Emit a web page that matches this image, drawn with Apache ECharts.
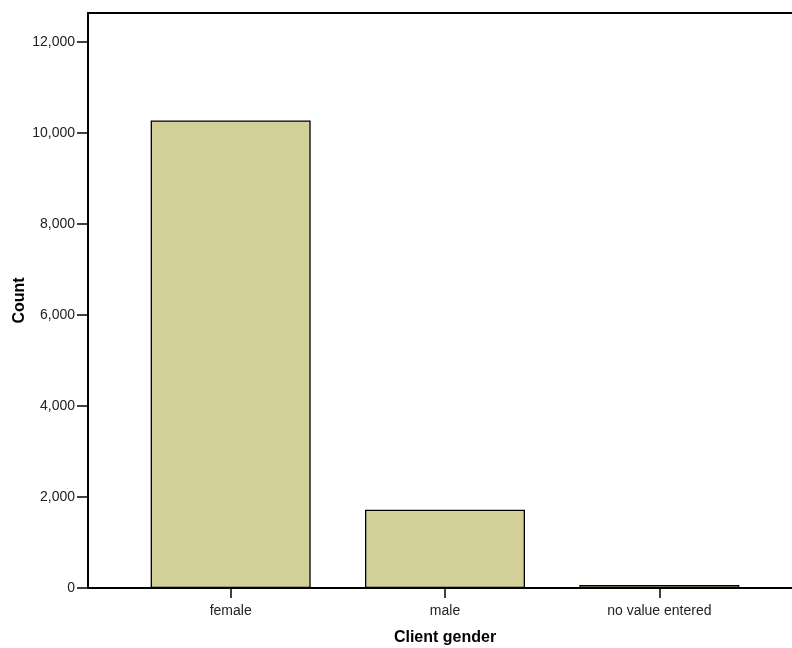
<!DOCTYPE html>
<html>
<head>
<meta charset="utf-8">
<script src="https://cdn.jsdelivr.net/npm/echarts@6/dist/echarts.min.js"></script>
<style>html,body{margin:0;padding:0;background:#fff;}#c{width:792px;height:648px;}</style>
</head>
<body>
<div id="c"></div>
<script>
const categories = ['female', 'male', 'no value entered'];
const counts = [10277, 1721, 68];
const yTicks = [0, 2000, 4000, 6000, 8000, 10000, 12000];
const yMax = 12637;

const chart = echarts.init(document.getElementById('c'), null, {renderer: 'canvas'});
const font = '"Liberation Sans", Arial, Helvetica, sans-serif';
chart.setOption({
  animation: false,
  backgroundColor: '#ffffff',
  grid: [
    {left: 88, top: 13, right: 0, bottom: 60, containLabel: false, outerBoundsMode: 'none'},
    {left: 123.5, top: 13, right: 25.5, bottom: 60, containLabel: false, outerBoundsMode: 'none'}
  ],
  xAxis: [
    {type: 'value', gridIndex: 0, min: 0, max: 1, position: 'bottom',
     axisLine: {show: true, onZero: false, lineStyle: {color: '#000', width: 2}},
     axisTick: {show: false}, axisLabel: {show: false}, splitLine: {show: false}},
    {type: 'value', gridIndex: 0, min: 0, max: 1, position: 'top',
     axisLine: {show: true, onZero: false, lineStyle: {color: '#000', width: 2}},
     axisTick: {show: false}, axisLabel: {show: false}, splitLine: {show: false}},
    {type: 'category', gridIndex: 1, data: categories,
     axisLine: {show: false},
     axisTick: {show: true, alignWithLabel: true, length: 10, lineStyle: {color: '#000', width: 1.5}},
     axisLabel: {color: '#222', fontFamily: font, fontSize: 14, margin: 16},
     name: 'Client gender', nameLocation: 'middle', nameGap: 42, nameMoveOverlap: false,
     nameTextStyle: {color: '#000', fontFamily: font, fontSize: 16, fontWeight: 'bold'}}
  ],
  yAxis: [
    {type: 'value', gridIndex: 0, min: 0, max: yMax,
     axisLine: {show: true, onZero: false, lineStyle: {color: '#000', width: 2}},
     axisTick: {show: true, length: 11, customValues: yTicks, lineStyle: {color: '#000', width: 1.5}},
     axisLabel: {customValues: yTicks, color: '#222', fontFamily: font, fontSize: 14, margin: 13,
       formatter: v => v.toLocaleString('en-US')},
     splitLine: {show: false},
     name: 'Count', nameLocation: 'middle', nameGap: 60, nameRotate: 90, nameMoveOverlap: false,
     nameTextStyle: {color: '#000', fontFamily: font, fontSize: 16, fontWeight: 'bold'}},
    {type: 'value', gridIndex: 1, min: 0, max: yMax, show: false, splitLine: {show: false}}
  ],
  series: [{
    type: 'bar', xAxisIndex: 2, yAxisIndex: 1, data: counts, barWidth: 160,
    itemStyle: {color: '#D2CF99', borderColor: '#000', borderWidth: 1.3}
  }]
});
</script>
</body>
</html>
